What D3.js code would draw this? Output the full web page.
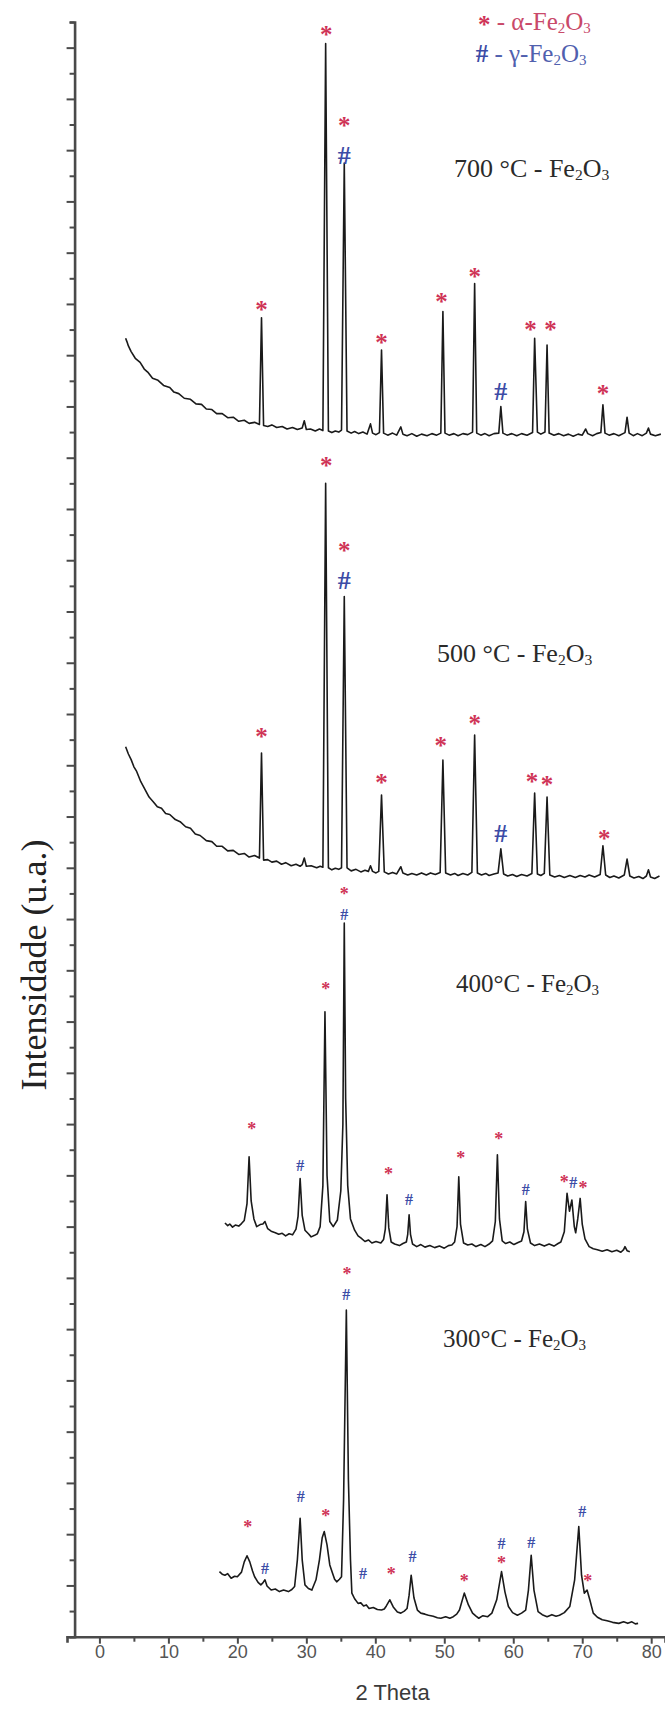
<!DOCTYPE html>
<html>
<head>
<meta charset="utf-8">
<script src="https://cdn.jsdelivr.net/npm/d3@7/dist/d3.min.js"></script>
<style>
  body { margin: 0; background: #fff; }
  svg { display: block; }
</style>
</head>
<body>
<svg id="chart" width="665" height="1711"></svg>
<script>
// X-ray diffraction patterns of Fe2O3 calcined at 300-700 °C, stacked on a shared
// arbitrary-intensity axis. Each pattern is a list of [2θ (deg), intensity] readings.

const pattern700 = [
  [3.8,2533],[4.0,2526],[4.2,2518],[4.6,2507],[5.2,2494],[5.9,2486],[6.5,2473],[7.0,2467],
  [7.7,2455],[8.5,2451],[9.3,2441],[10.2,2437],[10.8,2428],[11.5,2425],[12.3,2416],[13.2,2414],
  [14.0,2405],[14.8,2404],[15.5,2395],[16.3,2394],[17.0,2386],[17.8,2386],[18.6,2378],[19.4,2379],
  [20.2,2371],[21.0,2373],[21.7,2367],[22.5,2369],[23.2,2365],[23.5,2573],[23.8,2363],
  [24.4,2361],[25.0,2364],[25.7,2359],[26.5,2361],[27.2,2356],[28.0,2359],[28.7,2355],[29.4,2358],
  [29.7,2372],[30.0,2355],[30.6,2356],[31.3,2352],[31.9,2356],[32.4,2353],[32.8,3108],[33.2,2352],
  [33.7,2349],[34.2,2352],[34.7,2350],[35.1,2354],[35.5,2875],[35.9,2352],[36.5,2348],[37.0,2351],
  [37.6,2347],[38.2,2350],[38.8,2346],[39.3,2366],[39.6,2348],[40.1,2345],[40.6,2349],[40.9,2510],
  [41.2,2348],[41.8,2344],[42.5,2348],[43.1,2344],[43.7,2360],[44.0,2346],[44.6,2343],[45.3,2347],
  [46.0,2342],[46.7,2346],[47.5,2343],[48.2,2347],[48.9,2344],[49.5,2348],[49.8,2585],[50.1,2348],
  [50.7,2344],[51.4,2347],[52.0,2343],[52.7,2347],[53.4,2345],[54.1,2350],[54.4,2640],[54.7,2348],
  [55.3,2344],[55.9,2347],[56.5,2343],[57.2,2347],[57.9,2348],[58.2,2400],[58.5,2348],[59.1,2344],
  [59.8,2347],[60.5,2343],[61.2,2347],[62.0,2344],[62.8,2349],[63.1,2533],[63.5,2350],[64.0,2346],
  [64.6,2350],[64.9,2520],[65.2,2348],[65.9,2344],[66.6,2347],[67.3,2343],[68.0,2346],[68.7,2342],
  [69.4,2346],[70.0,2344],[70.5,2356],[70.8,2347],[71.5,2343],[72.1,2347],[72.7,2349],[73.0,2403],
  [73.3,2348],[73.9,2344],[74.6,2347],[75.3,2343],[76.2,2349],[76.5,2379],[76.8,2348],[77.4,2343],
  [78.0,2347],[78.7,2343],[79.3,2348],[79.6,2358],[79.9,2346],[80.6,2343],[81.4,2346]
];

const pattern500 = [
  [3.8,1736],[4.2,1722],[4.6,1711],[5.0,1697],[5.4,1688],[6.0,1668],[6.6,1653],[7.2,1638],
  [7.8,1629],[8.4,1619],[9.0,1616],[9.6,1606],[10.2,1604],[11.0,1594],[11.7,1590],[12.5,1580],
  [13.2,1577],[13.9,1566],[14.6,1563],[15.5,1553],[16.3,1551],[17.0,1542],[17.8,1542],[18.6,1533],
  [19.4,1534],[20.2,1526],[21.0,1528],[21.7,1521],[22.5,1524],[23.2,1519],[23.5,1724],[23.8,1515],
  [24.4,1516],[25.0,1511],[25.7,1513],[26.4,1507],[27.0,1510],[27.8,1504],[28.5,1507],[29.1,1503],
  [29.4,1506],[29.7,1519],[30.0,1503],[30.7,1504],[31.5,1500],[32.0,1503],[32.4,1501],[32.8,2250],
  [33.2,1500],[33.7,1496],[34.2,1499],[34.7,1497],[35.1,1500],[35.5,2029],[35.9,1500],[36.5,1494],
  [37.2,1497],[37.9,1492],[38.5,1495],[39.0,1493],[39.3,1504],[39.6,1493],[40.1,1490],[40.5,1493],
  [40.9,1642],[41.3,1492],[41.9,1488],[42.5,1491],[43.1,1488],[43.7,1502],[44.0,1490],[44.7,1486],
  [45.3,1489],[46.0,1486],[46.7,1490],[47.4,1486],[48.0,1490],[48.7,1487],[49.4,1491],[49.8,1710],
  [50.2,1490],[50.9,1486],[51.5,1489],[52.0,1485],[52.7,1489],[53.4,1486],[54.0,1491],[54.4,1759],
  [54.8,1490],[55.4,1486],[56.0,1489],[56.5,1485],[57.2,1488],[57.8,1490],[58.2,1537],[58.6,1488],
  [59.2,1484],[59.9,1487],[60.5,1483],[61.2,1487],[62.0,1484],[62.7,1489],[63.1,1646],[63.5,1488],
  [64.0,1485],[64.5,1489],[64.9,1638],[65.3,1486],[66.0,1482],[66.7,1485],[67.4,1481],[68.2,1485],
  [69.0,1481],[69.7,1485],[70.4,1482],[71.0,1486],[71.8,1482],[72.6,1487],[73.0,1543],[73.4,1486],
  [74.0,1481],[74.6,1484],[75.3,1480],[76.1,1486],[76.5,1517],[76.9,1484],[77.5,1480],[78.2,1483],
  [78.8,1479],[79.3,1484],[79.6,1496],[79.9,1482],[80.5,1479],[81.2,1484]
];

const pattern400 = [
  [18.2,807],[18.6,802],[18.9,805],[19.3,799],[19.7,803],[20.2,801],[20.6,806],
  [21.0,812],[21.4,845],[21.7,936],[22.0,850],[22.4,815],[22.8,800],[23.3,804],[23.7,805],
  [24.0,810],[24.4,796],[24.9,791],[25.5,788],[26.0,785],[26.5,787],[27.0,782],[27.5,786],
  [28.0,784],[28.5,795],[28.8,820],[29.1,894],[29.4,822],[29.8,793],[30.3,786],[30.7,780],
  [31.2,783],[31.6,786],[32.0,800],[32.4,880],[32.7,1219],[33.0,900],[33.4,810],[33.9,800],
  [34.5,813],[35.0,870],[35.3,1000],[35.5,1392],[35.7,1050],[36.0,880],[36.4,815],[37.0,793],
  [37.5,782],[37.9,778],[38.5,771],[39.0,774],[39.5,768],[40.1,771],[40.8,768],
  [41.2,775],[41.45,795],[41.7,862],[41.95,798],[42.3,770],[42.8,766],[43.5,763],[44.0,767],
  [44.5,770],[44.7,785],[44.9,823],[45.1,785],[45.4,766],[46.0,761],[46.6,765],[47.2,760],
  [47.9,763],[48.6,759],[49.3,762],[50.0,758],[50.6,763],[51.1,764],
  [51.5,770],[51.85,800],[52.1,897],[52.35,805],[52.8,768],[53.4,764],[54.0,766],[54.6,761],
  [55.3,765],[55.9,761],[56.5,766],[57.0,772],[57.4,810],[57.7,940],[58.0,815],[58.4,772],
  [58.9,767],[59.5,770],[60.1,765],[60.7,769],[61.2,772],[61.55,790],[61.8,849],[62.05,795],
  [62.5,768],[63.1,763],[63.8,766],[64.5,762],[65.2,766],[65.9,762],[66.5,767],
  [66.9,770],[67.4,790],[67.8,865],[68.15,830],[68.5,852],[68.85,800],[69.05,788],[69.35,815],
  [69.7,855],[70.0,805],[70.4,776],[71.0,761],[71.6,757],[72.2,755],[72.9,752],[73.6,755],
  [74.3,751],[75.0,754],[75.6,750],[76.0,755],[76.2,761],[76.5,753],[76.9,751]
];

const pattern300 = [
  [17.4,127],[17.8,122],[18.2,120],[18.6,123],[19.1,114],[19.6,118],[20.0,117],[20.6,126],
  [21.0,146],[21.4,158],[21.8,146],[22.2,128],[22.5,117],[23.0,106],[23.4,101],[23.7,105],
  [24.0,111],[24.3,99],[24.6,95],[24.9,91],[25.5,93],[26.1,88],[26.7,91],[27.4,88],
  [27.9,92],[28.3,98],[28.7,150],[29.1,231],[29.4,150],[29.8,101],[30.3,94],[30.8,91],
  [31.4,111],[31.9,150],[32.3,193],[32.6,205],[33.0,179],[33.4,140],[33.8,124],[34.1,112],
  [34.4,107],[34.8,112],[35.1,117],[35.4,267],[35.8,637],[36.1,306],[36.4,150],[36.6,85],
  [37.0,74],[37.5,65],[37.9,66],[38.3,60],[38.7,62],[39.1,55],[39.7,57],[40.3,53],
  [40.9,52],[41.3,54],[41.6,60],[42.1,72],[42.6,58],[43.2,48],[43.7,46],[44.2,50],
  [44.6,55],[44.9,81],[45.2,120],[45.6,76],[46.1,52],[46.6,46],[47.2,44],[47.7,42],
  [48.4,40],[49.0,37],[49.5,36],[50.2,39],[50.8,36],[51.3,39],[51.8,44],[52.2,52],
  [52.9,85],[53.5,62],[54.1,46],[54.6,40],[55.0,36],[55.6,41],[56.3,39],[56.9,46],
  [57.6,72],[58.3,127],[58.8,87],[59.3,59],[59.9,47],[60.6,42],[61.2,46],[61.8,52],
  [62.2,91],[62.6,159],[63.0,91],[63.6,49],[64.2,43],[64.9,39],[65.6,43],[66.2,40],
  [66.7,42],[67.4,47],[68.2,59],[68.9,111],[69.5,215],[69.9,120],[70.3,85],[70.7,91],
  [71.1,72],[71.6,46],[72.2,38],[72.9,33],[73.6,31],[74.4,28],[75.3,26],[76.0,29],
  [76.6,26],[77.2,29],[77.7,25],[78.1,26]
];

// Phase markers: [2θ, intensity, phase]  ('a' = α-Fe2O3, 'g' = γ-Fe2O3)
const markers700 = [
  [23.5,2596,'a'],[32.9,3132,'a'],[35.5,2955,'a'],[35.5,2890,'g'],[40.9,2532,'a'],
  [49.6,2611,'a'],[54.4,2660,'a'],[58.2,2429,'g'],[62.5,2556,'a'],[65.4,2556,'a'],[73.0,2432,'a']
];
const markers500 = [
  [23.5,1762,'a'],[32.9,2292,'a'],[35.5,2126,'a'],[35.5,2061,'g'],[40.9,1673,'a'],
  [49.5,1744,'a'],[54.4,1788,'a'],[58.2,1567,'g'],[62.7,1675,'a'],[64.9,1668,'a'],[73.2,1564,'a']
];
const markers400 = [
  [22.1,995,'a'],[29.1,920,'g'],[32.8,1268,'a'],[35.5,1453,'a'],[35.5,1408,'g'],[41.9,907,'a'],
  [44.9,852,'g'],[52.4,938,'a'],[57.9,975,'a'],[61.8,873,'g'],[67.4,891,'a'],[68.7,885,'g'],[70.1,881,'a']
];
const markers300 = [
  [21.5,218,'a'],[24.0,133,'g'],[29.2,273,'g'],[32.8,241,'a'],[35.9,712,'a'],[35.8,667,'g'],
  [38.2,124,'g'],[42.3,127,'a'],[45.4,156,'g'],[52.9,114,'a'],[58.3,148,'a'],[58.3,182,'g'],
  [62.6,183,'g'],[70.0,244,'g'],[70.8,114,'a']
];

const xTicks = d3.range(0, 81, 5);
const yTicks = d3.range(0, 3151, 50);
const sampleNames = ['700 °C - ', '500 °C - ', '400°C - ', '300°C - '];
const legendItems = [['*', 'α-'], ['#', 'γ-']];

// ---------------------------------------------------------------------------
const svg = d3.select('#chart');
const SERIF = '"Liberation Serif", "Times New Roman", serif';
const SANS = '"Liberation Sans", Arial, sans-serif';
const RED = '#cf3356', BLUE = '#3c4ca6';
const AXIS = '#4a4a4a';

const x = d3.scaleLinear().domain([-4.7, 82]).range([67, 665]);
const y = d3.scaleLinear().domain([0, 3150]).range([1636.7, 22]);

// y axis: long ticks every 100, short ticks in between, no labels
const yAxisG = svg.append('g').attr('transform', `translate(${x(-3.6)},0)`);
yAxisG.call(d3.axisLeft(y).tickValues(yTicks).tickFormat('').tickSizeOuter(0).tickSize(5));
yAxisG.selectAll('.tick line')
  .attr('x2', d => (d % 100 === 0 ? -8 : -5))
  .attr('stroke', AXIS).attr('stroke-width', 2);
yAxisG.select('.domain').attr('stroke', AXIS).attr('stroke-width', 2.6);

// x axis
const xAxisG = svg.append('g').attr('transform', `translate(0,${y(0)})`);
xAxisG.call(d3.axisBottom(x).tickValues(xTicks).tickSizeOuter(0).tickSize(6).tickPadding(3)
  .tickFormat(d => (d % 10 === 0 ? d : '')));
xAxisG.selectAll('.tick line')
  .attr('y2', d => (d % 10 === 0 ? 7 : 5))
  .attr('stroke', AXIS).attr('stroke-width', 2);
xAxisG.select('.domain').attr('stroke', AXIS).attr('stroke-width', 2.6);
xAxisG.selectAll('.tick text')
  .attr('font-family', SANS).attr('font-size', 18).attr('fill', '#555');

svg.append('text')
  .attr('x', x(42.5)).attr('y', 1700)
  .attr('text-anchor', 'middle')
  .attr('font-family', SANS).attr('font-size', 22).attr('fill', '#3a3a3a')
  .text('2 Theta');

svg.append('text')
  .attr('transform', 'translate(46,965) rotate(-90)')
  .attr('text-anchor', 'middle')
  .attr('font-family', SERIF).attr('font-size', 36).attr('fill', '#222')
  .text('Intensidade (u.a.)');

// diffraction traces
const line = d3.line().x(d => x(d[0])).y(d => y(d[1]));
[pattern700, pattern500, pattern400, pattern300].forEach(p => {
  svg.append('path').datum(p)
    .attr('d', line)
    .attr('fill', 'none')
    .attr('stroke', '#1a1a1a')
    .attr('stroke-width', 1.6)
    .attr('stroke-linejoin', 'round');
});

// phase markers: red asterisk for α-Fe2O3, blue hash for γ-Fe2O3
function drawMarkers(list, big) {
  const fs = big ? { a: 25, g: 26 } : { a: 18, g: 16 };
  svg.append('g').selectAll('text').data(list).join('text')
    .attr('x', d => x(d[0]))
    .attr('y', d => y(d[1]) + (d[2] === 'a' ? 0.47 * fs.a : 0.34 * fs.g))
    .attr('text-anchor', 'middle')
    .attr('font-family', SERIF)
    .attr('font-weight', 'bold')
    .attr('font-size', d => fs[d[2]])
    .attr('fill', d => (d[2] === 'a' ? RED : BLUE))
    .text(d => (d[2] === 'a' ? '*' : '#'));
}
drawMarkers(markers700, true);
drawMarkers(markers500, true);
drawMarkers(markers400, false);
drawMarkers(markers300, false);

// chemical formula helper: "Fe2O3" with lowered small digits
function formula(t, size) {
  t.append('tspan').text('Fe');
  t.append('tspan').attr('font-size', size * 0.6).attr('dy', size * 0.12).text('2');
  t.append('tspan').attr('dy', -size * 0.12).text('O');
  t.append('tspan').attr('font-size', size * 0.6).attr('dy', size * 0.12).text('3');
}

// sample labels
const labelPos = [[454, 176.7, 26], [437, 662, 26], [456, 991.7, 25], [443, 1347, 25]];
sampleNames.forEach((name, i) => {
  const [lx, ly, fsz] = labelPos[i];
  const t = svg.append('text')
    .attr('x', lx).attr('y', ly)
    .attr('font-family', SERIF).attr('font-size', fsz).attr('fill', '#2a2a2a');
  t.append('tspan').text(name);
  formula(t, fsz);
});

// legend
const legendPos = [[478, 30, RED, '#c9496a'], [475.7, 61.5, BLUE, '#5060ae']];
legendItems.forEach(([sym, pre], i) => {
  const [lx, ly, c1, c2] = legendPos[i];
  const shift = sym === '*' ? 3 : 0;
  const t = svg.append('text')
    .attr('x', lx).attr('y', ly)
    .attr('font-family', SERIF).attr('font-size', 25).attr('fill', c2);
  t.append('tspan').attr('fill', c1).attr('font-weight', 'bold')
    .attr('dy', shift).text(sym);
  t.append('tspan').attr('dy', -shift).text(' - ' + pre);
  formula(t, 25);
});
</script>
</body>
</html>
